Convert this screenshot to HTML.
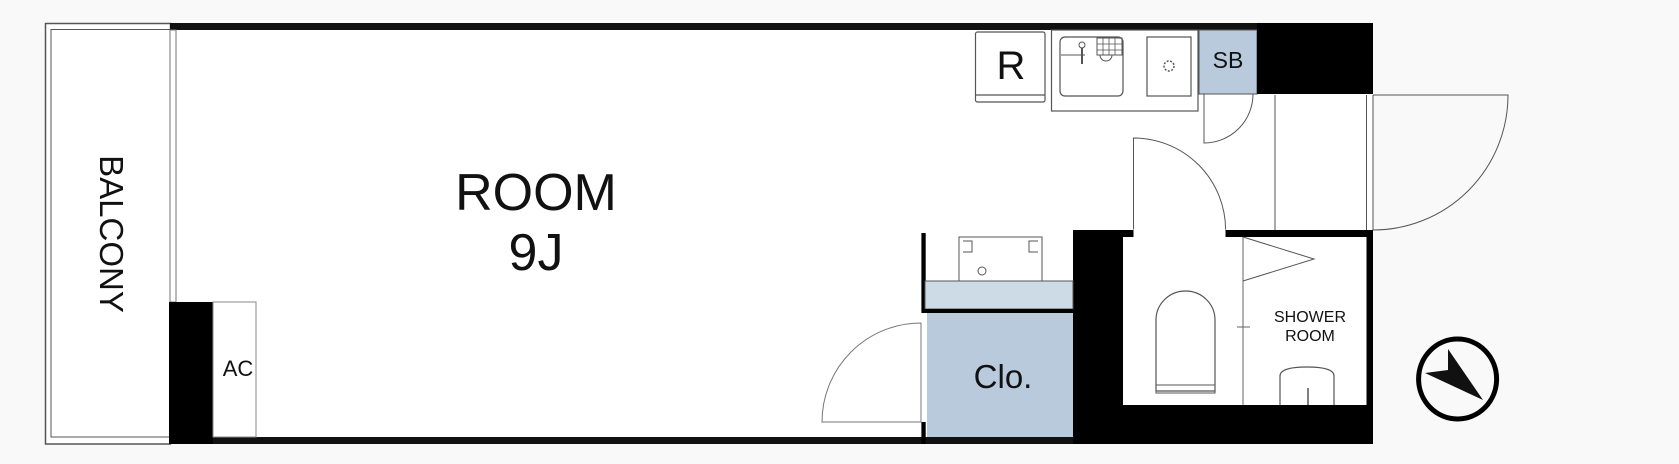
<!DOCTYPE html>
<html><head><meta charset="utf-8"><style>
html,body{margin:0;padding:0;background:#f9f9f9;}
svg{display:block;}
text{font-family:"Liberation Sans",sans-serif;fill:#111;}
</style></head><body>
<svg width="1679" height="464" viewBox="0 0 1679 464" xmlns="http://www.w3.org/2000/svg">
<rect width="1679" height="464" fill="#f9f9f9"/>
<!-- balcony -->
<rect x="45.5" y="23.5" width="125" height="420.5" fill="#fff" stroke="#555" stroke-width="1.5"/>
<rect x="51" y="29.5" width="119" height="407.5" fill="none" stroke="#555" stroke-width="1"/>
<text transform="translate(100,234) rotate(90)" text-anchor="middle" font-size="33">BALCONY</text>
<!-- room interior -->
<rect x="170" y="23" width="1203" height="421" fill="#fff"/>
<!-- walls -->
<rect x="170" y="23" width="1203" height="7" fill="#111"/>
<rect x="170" y="437" width="903" height="7" fill="#111"/>
<rect x="170" y="30" width="6" height="272" fill="#fff" stroke="#777" stroke-width="1"/>
<rect x="169" y="302" width="44" height="142" fill="#000"/>
<rect x="213" y="302" width="43" height="135" fill="#fff" stroke="#888" stroke-width="1"/>
<text x="238" y="376" text-anchor="middle" font-size="22">AC</text>
<text x="536" y="210" text-anchor="middle" font-size="52">ROOM</text>
<text x="536" y="270" text-anchor="middle" font-size="52">9J</text>
<!-- kitchen -->
<rect x="975.5" y="32" width="69.5" height="70" rx="2" fill="#fff" stroke="#555" stroke-width="1.2"/>
<line x1="975.5" y1="95" x2="1045" y2="95" stroke="#555" stroke-width="1.2"/>
<text x="1011" y="79" text-anchor="middle" font-size="40">R</text>
<rect x="1051.5" y="30" width="146.5" height="81" fill="#fff" stroke="#555" stroke-width="1.2"/>
<rect x="1060" y="37" width="63" height="59" rx="5" fill="none" stroke="#555" stroke-width="1.2"/>
<line x1="1061" y1="55" x2="1085" y2="55" stroke="#555"/>
<line x1="1082" y1="45" x2="1082" y2="64" stroke="#555" stroke-width="2"/>
<circle cx="1082" cy="45" r="3" fill="#fff" stroke="#555"/>
<rect x="1097" y="38" width="25" height="17" fill="none" stroke="#555"/>
<path d="M1103 38v17M1109 38v17M1115 38v17M1097 44h25M1097 50h25" stroke="#555" stroke-width="0.8"/>
<path d="M1100 55a6 6 0 0 0 12 0" fill="none" stroke="#555"/>
<rect x="1147" y="37" width="44" height="59" fill="#fff" stroke="#555" stroke-width="1.2"/>
<circle cx="1169" cy="66" r="5" fill="none" stroke="#555" stroke-width="1.5" stroke-dasharray="2 1.5"/>
<rect x="1199" y="30" width="58" height="64" fill="#b8cadc" stroke="#555" stroke-width="1"/>
<text x="1228" y="68" text-anchor="middle" font-size="23">SB</text>
<rect x="1257" y="23" width="116" height="71" fill="#000"/>
<!-- small door -->
<path d="M1204 94V143A49 49 0 0 0 1253 94" fill="none" stroke="#555" stroke-width="1"/>
<!-- entry -->
<path d="M1275 95V230M1366.5 95V230M1373 95V230M1373 95H1508A135 135 0 0 1 1373 230" fill="none" stroke="#555" stroke-width="1"/>
<!-- middle door -->
<path d="M1133.5 230V138A92 92 0 0 1 1225.6 230" fill="none" stroke="#555" stroke-width="1"/>
<!-- bath block -->
<rect x="1073" y="230" width="300" height="214" fill="#000"/>
<rect x="1123" y="237" width="243.5" height="168" fill="#fff"/>
<rect x="1133.5" y="229" width="92" height="8" fill="#fff"/>
<line x1="1243" y1="237" x2="1243" y2="405" stroke="#666" stroke-width="1"/>
<path d="M1243 237L1314 259L1243 281" fill="none" stroke="#555" stroke-width="1"/>
<line x1="1237" y1="327" x2="1250" y2="327" stroke="#666"/>
<path d="M1156 391V320A29.5 29 0 0 1 1215 320V391Z" fill="none" stroke="#555" stroke-width="1.2"/>
<rect x="1156" y="385" width="59" height="8" fill="none" stroke="#555"/>
<text x="1310" y="322" text-anchor="middle" font-size="16">SHOWER</text>
<text x="1310" y="341" text-anchor="middle" font-size="16">ROOM</text>
<path d="M1280 405V376Q1280 367 1307 367Q1334 367 1334 376V405" fill="none" stroke="#555" stroke-width="1.2"/>
<line x1="1308" y1="388" x2="1308" y2="405" stroke="#555" stroke-width="1.5"/>
<!-- closet area -->
<rect x="921.4" y="233" width="4.3" height="80" fill="#000"/>
<rect x="921.4" y="422" width="4.3" height="22" fill="#000"/>
<rect x="959" y="237" width="83" height="44" fill="#fff" stroke="#555" stroke-width="1"/>
<path d="M963 241h9v11h-9M1038 241h-9v11h9" fill="none" stroke="#555"/>
<circle cx="982" cy="271" r="4" fill="none" stroke="#555"/>
<rect x="925" y="281" width="148" height="28" fill="#cddbe6" stroke="#555" stroke-width="1"/>
<rect x="923" y="309" width="150" height="4" fill="#000"/>
<rect x="927" y="313" width="146" height="124" fill="#b8cadc"/>
<text x="1003" y="388" text-anchor="middle" font-size="33">Clo.</text>
<path d="M921 323V422H822A99 99 0 0 1 921 323" fill="none" stroke="#777" stroke-width="1"/>
<!-- compass -->
<ellipse cx="1457.6" cy="379" rx="39" ry="40" fill="none" stroke="#000" stroke-width="5"/>
<polygon points="1483,400 1425,373 1448,370 1448,349" fill="#111"/>
</svg>
</body></html>
